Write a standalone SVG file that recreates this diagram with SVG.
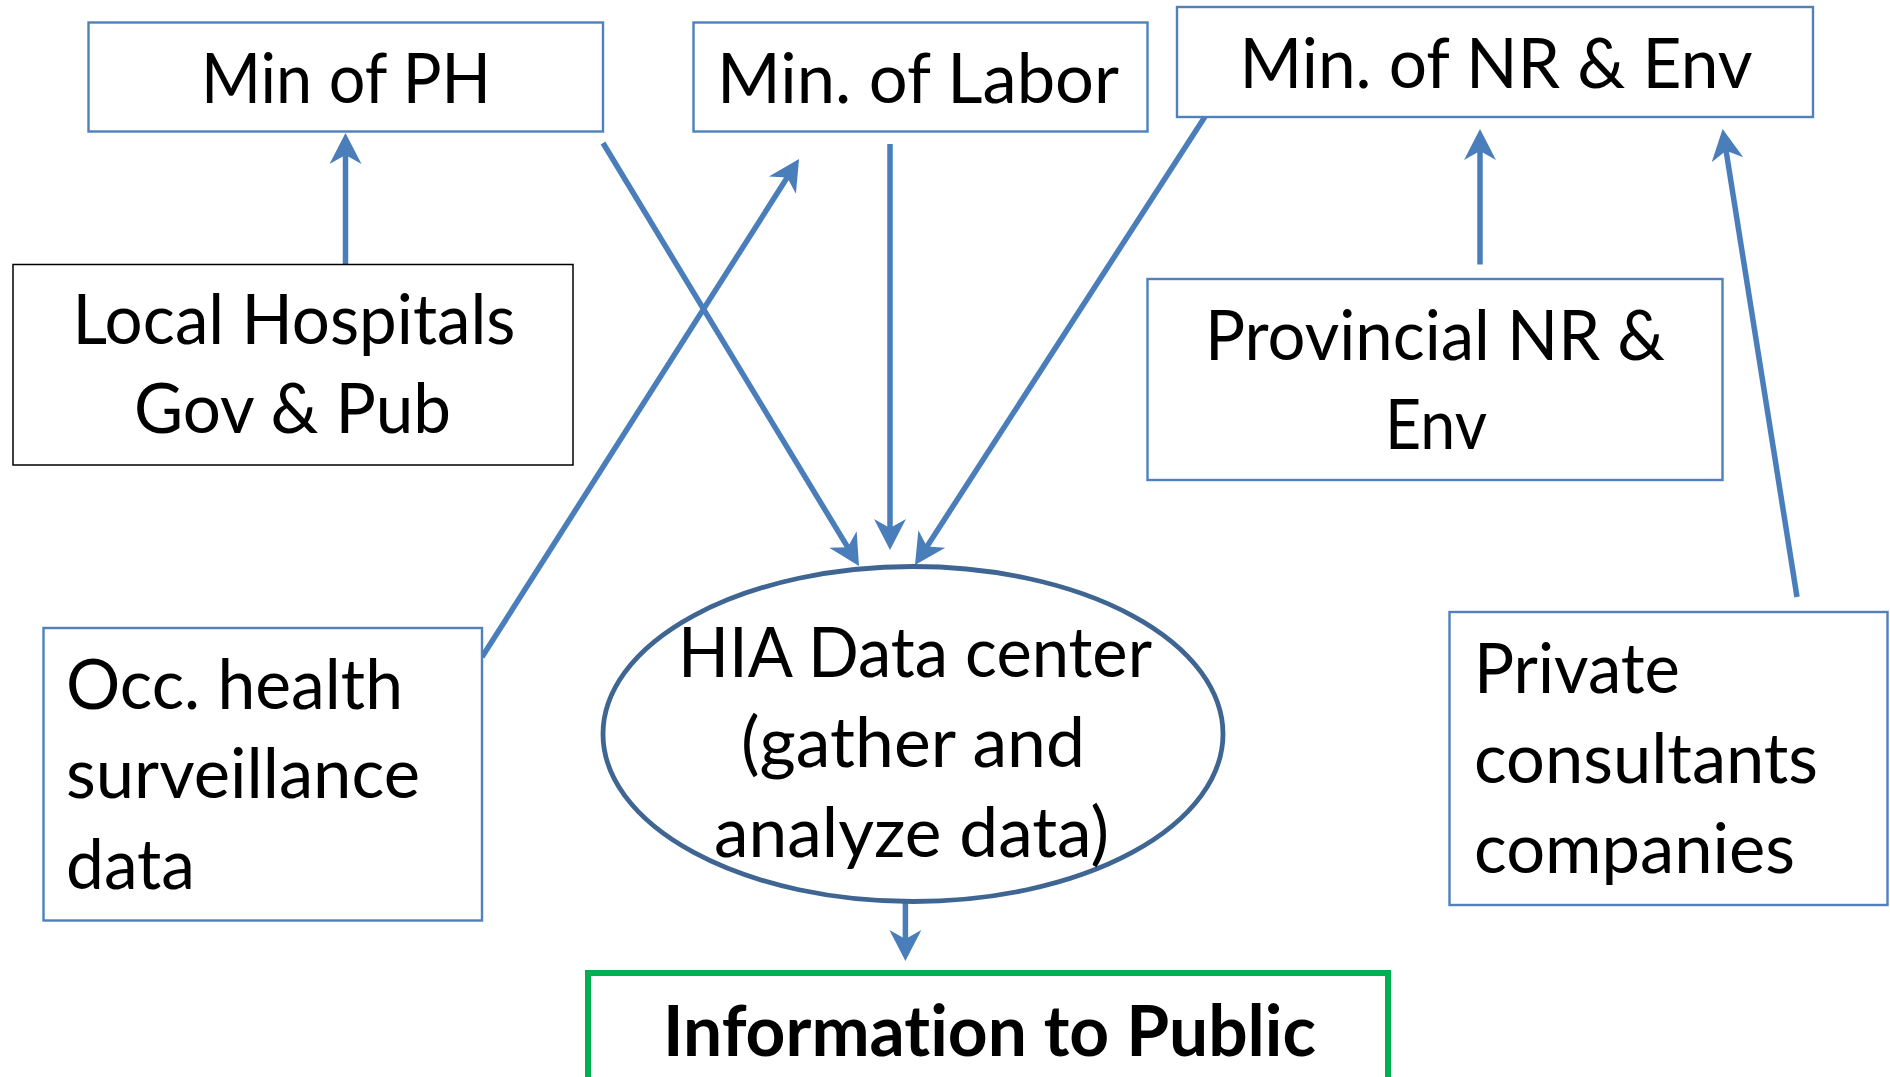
<svg xmlns="http://www.w3.org/2000/svg" width="1890" height="1077" viewBox="0 0 1890 1077">
<style>
.box{fill:#fff;stroke:#4F81BD;stroke-width:2.4}
.blk{fill:#fff;stroke:#000;stroke-width:1.5}
.t{font-family:Lato,"Open Sans","Liberation Sans",sans-serif;font-size:70px;fill:#000;font-variant-ligatures:none;font-feature-settings:"liga" 0,"clig" 0,"dlig" 0}
.c{stroke:#4A7EBB;stroke-width:5.5;fill:none;marker-end:url(#ah)}
</style>
<defs>
<marker id="ah" markerUnits="userSpaceOnUse" markerWidth="50" markerHeight="40" viewBox="-30 -20 50 40" refX="0" refY="0" orient="auto" overflow="visible">
<path d="M12,0 L-19,-16 L-10,0 L-19,16 Z" fill="#4A7EBB"/>
</marker>
</defs>
<rect width="1890" height="1077" fill="#fff"/>
<g id="connectors">
<line class="c" x1="345.5" y1="264" x2="345.5" y2="145"/>
<line class="c" x1="603" y1="143" x2="852.8" y2="555.7"/>
<line class="c" x1="482" y1="657" x2="792.6" y2="169.1"/>
<line class="c" x1="890" y1="144" x2="890" y2="538"/>
<line class="c" x1="1208" y1="112" x2="921.5" y2="554.9"/>
<line class="c" x1="1480" y1="264.5" x2="1480" y2="141"/>
<line class="c" x1="1797" y1="597" x2="1724.5" y2="140.9"/>
<line class="c" x1="905.4" y1="901.6" x2="905.4" y2="949"/>
</g>
<g id="min-ph">
<rect class="box" x="88.5" y="22.5" width="514.5" height="109"/>
<text class="t" x="346" y="103" text-anchor="middle" textLength="290" lengthAdjust="spacingAndGlyphs">Min of PH</text>
</g>
<g id="min-labor">
<rect class="box" x="693.5" y="22.5" width="454" height="109"/>
<text class="t" x="918" y="103" text-anchor="middle" textLength="402" lengthAdjust="spacingAndGlyphs">Min. of Labor</text>
</g>
<g id="min-nr-env">
<rect class="box" x="1177" y="7" width="636" height="110"/>
<text class="t" x="1496" y="88" text-anchor="middle" textLength="513" lengthAdjust="spacingAndGlyphs">Min. of NR &amp; Env</text>
</g>
<g id="local-hospitals">
<rect class="blk" x="13" y="264.5" width="560" height="200.5"/>
<text class="t" x="294" y="344" text-anchor="middle" textLength="443" lengthAdjust="spacingAndGlyphs">Local Hospitals</text>
<text class="t" x="292.5" y="433" text-anchor="middle" textLength="317" lengthAdjust="spacingAndGlyphs">Gov &amp; Pub</text>
</g>
<g id="provincial">
<rect class="box" x="1147.5" y="279" width="575" height="201"/>
<text class="t" x="1435" y="360" text-anchor="middle" textLength="460" lengthAdjust="spacingAndGlyphs">Provincial NR &amp;</text>
<text class="t" x="1436" y="449" text-anchor="middle" textLength="102" lengthAdjust="spacingAndGlyphs">Env</text>
</g>
<g id="occ-health">
<rect class="box" x="43.5" y="628" width="438.5" height="292.5"/>
<text class="t" x="66" y="709" textLength="337" lengthAdjust="spacingAndGlyphs">Occ. health</text>
<text class="t" x="66" y="798" textLength="354" lengthAdjust="spacingAndGlyphs">surveillance</text>
<text class="t" x="66" y="888.5" textLength="129" lengthAdjust="spacingAndGlyphs">data</text>
</g>
<g id="private">
<rect class="box" x="1449.5" y="612" width="438" height="293"/>
<text class="t" x="1474" y="693" textLength="206" lengthAdjust="spacingAndGlyphs">Private</text>
<text class="t" x="1474" y="783" textLength="344" lengthAdjust="spacingAndGlyphs">consultants</text>
<text class="t" x="1474" y="873" textLength="321" lengthAdjust="spacingAndGlyphs">companies</text>
</g>
<g id="hia">
<ellipse cx="913" cy="734" rx="310" ry="167.5" fill="#fff" stroke="#3F6593" stroke-width="4.8"/>
<text class="t" x="915" y="677" text-anchor="middle" textLength="474" lengthAdjust="spacingAndGlyphs">HIA Data center</text>
<text class="t" x="913" y="767" text-anchor="middle" textLength="344" lengthAdjust="spacingAndGlyphs">(gather and</text>
<text class="t" x="911.5" y="857" text-anchor="middle" textLength="395" lengthAdjust="spacingAndGlyphs">analyze data)</text>
</g>
<g id="info-public">
<rect x="588" y="973" width="800" height="130" fill="#fff" stroke="#00B050" stroke-width="6"/>
<text class="t" x="989.5" y="1056" text-anchor="middle" font-weight="bold" textLength="653" lengthAdjust="spacingAndGlyphs">Information to Public</text>
</g>
</svg>
